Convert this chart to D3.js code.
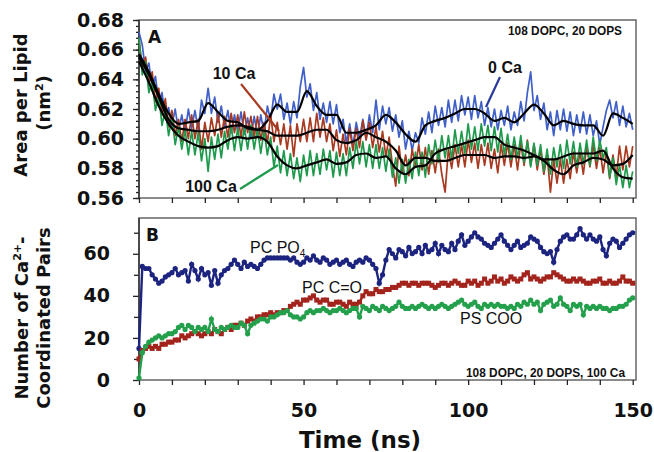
<!DOCTYPE html>
<html lang="en">
<head>
  <meta charset="UTF-8">
  <script src="https://d3js.org/d3.v7.min.js"></script>
  <style>
    body {
      background-color: #fff;
      margin: 0;
      overflow: hidden;
    }

    svg {
      width: 654px;
      height: 452px;
      display: block;
    }

    .tick-label {
      font-family: "DejaVu Sans", Verdana, sans-serif;
      font-weight: bold;
      font-size: 19px;
      fill: #111;
    }

    .title {
      font-family: "DejaVu Sans", Verdana, sans-serif;
      font-weight: bold;
      fill: #111;
    }

    .note {
      font-family: "Liberation Sans", Arial, sans-serif;
      fill: #111;
    }
  </style>
</head>
<body>

<svg></svg>

<script>
  // time axis (ns), one sample per ns for the raw traces, every 3 ns for running averages
  const timeNs = d3.range(0, 151);
  const avgTimeNs = d3.range(0, 151, 3);

  // panel A: area per lipid (nm^2)
  const area0Ca = [0.672,0.663,0.645,0.651,0.635,0.642,0.624,0.631,0.614,0.621,
    0.609,0.620,0.605,0.616,0.604,0.620,0.607,0.619,0.606,0.626,
    0.617,0.634,0.617,0.628,0.611,0.622,0.608,0.619,0.604,0.616,
    0.605,0.618,0.603,0.614,0.601,0.615,0.602,0.616,0.604,0.622,
    0.612,0.630,0.620,0.630,0.613,0.624,0.610,0.625,0.614,0.635,
    0.648,0.628,0.637,0.619,0.631,0.613,0.624,0.611,0.625,0.610,
    0.623,0.604,0.613,0.597,0.610,0.595,0.611,0.600,0.613,0.600,
    0.616,0.604,0.626,0.606,0.622,0.610,0.621,0.605,0.616,0.601,
    0.612,0.593,0.605,0.592,0.604,0.597,0.614,0.603,0.618,0.604,
    0.622,0.609,0.621,0.608,0.626,0.611,0.626,0.612,0.629,0.616,
    0.628,0.613,0.629,0.614,0.625,0.609,0.621,0.608,0.620,0.606,
    0.619,0.609,0.622,0.606,0.618,0.609,0.625,0.612,0.631,0.645,
    0.619,0.629,0.613,0.624,0.606,0.618,0.602,0.619,0.606,0.620,
    0.605,0.618,0.602,0.616,0.604,0.618,0.603,0.616,0.602,0.612,
    0.596,0.608,0.619,0.626,0.614,0.625,0.609,0.622,0.608,0.617,
    0.606];

  const area10Ca = [0.667,0.648,0.655,0.637,0.645,0.625,0.634,0.616,0.627,0.608,
    0.619,0.602,0.613,0.598,0.613,0.600,0.616,0.600,0.613,0.593,
    0.611,0.598,0.614,0.602,0.617,0.601,0.615,0.601,0.617,0.604,
    0.616,0.601,0.618,0.604,0.615,0.601,0.615,0.599,0.611,0.597,
    0.616,0.598,0.611,0.596,0.610,0.593,0.609,0.588,0.610,0.598,
    0.613,0.598,0.614,0.598,0.617,0.601,0.614,0.598,0.610,0.592,
    0.606,0.588,0.603,0.589,0.607,0.592,0.607,0.594,0.612,0.599,
    0.611,0.594,0.608,0.591,0.605,0.588,0.601,0.582,0.568,0.595,
    0.577,0.589,0.575,0.593,0.581,0.596,0.579,0.594,0.576,0.592,
    0.577,0.593,0.576,0.564,0.593,0.580,0.596,0.581,0.596,0.581,
    0.599,0.584,0.597,0.580,0.596,0.582,0.597,0.580,0.593,0.577,
    0.596,0.582,0.597,0.581,0.596,0.579,0.597,0.582,0.599,0.582,
    0.596,0.579,0.593,0.576,0.589,0.564,0.586,0.570,0.586,0.570,
    0.586,0.573,0.591,0.577,0.591,0.576,0.595,0.581,0.596,0.580,
    0.594,0.577,0.591,0.573,0.589,0.574,0.595,0.579,0.595,0.581,
    0.595];

  const area100Ca = [0.668,0.643,0.652,0.631,0.639,0.619,0.629,0.609,0.620,0.602,
    0.614,0.596,0.608,0.593,0.606,0.589,0.605,0.589,0.604,0.585,
    0.600,0.578,0.601,0.586,0.603,0.587,0.605,0.593,0.609,0.592,
    0.607,0.592,0.608,0.593,0.609,0.593,0.607,0.590,0.606,0.589,
    0.601,0.581,0.595,0.577,0.592,0.575,0.590,0.573,0.587,0.571,
    0.589,0.575,0.592,0.575,0.590,0.576,0.593,0.579,0.592,0.574,
    0.591,0.575,0.590,0.575,0.594,0.580,0.598,0.583,0.598,0.581,
    0.596,0.580,0.596,0.580,0.594,0.578,0.593,0.574,0.587,0.570,
    0.586,0.570,0.586,0.573,0.591,0.575,0.591,0.574,0.596,0.583,
    0.599,0.584,0.602,0.587,0.602,0.586,0.606,0.590,0.605,0.590,
    0.610,0.593,0.608,0.592,0.610,0.595,0.609,0.592,0.608,0.591,
    0.607,0.589,0.603,0.586,0.601,0.587,0.602,0.584,0.598,0.581,
    0.597,0.582,0.596,0.578,0.593,0.576,0.594,0.581,0.596,0.580,
    0.599,0.583,0.598,0.581,0.597,0.583,0.599,0.582,0.601,0.585,
    0.599,0.587,0.594,0.574,0.587,0.569,0.582,0.567,0.582,0.567,
    0.578];

  // running averages (black lines)
  const avg0Ca = [0.657,0.645,0.630,0.617,0.610,0.611,0.612,0.624,0.618,0.612,
    0.611,0.607,0.606,0.612,0.623,0.618,0.618,0.632,0.622,0.616,
    0.616,0.604,0.604,0.606,0.609,0.616,0.611,0.603,0.598,0.609,
    0.612,0.614,0.617,0.620,0.620,0.617,0.612,0.614,0.611,0.617,
    0.623,0.617,0.609,0.612,0.610,0.609,0.609,0.602,0.617,0.614,0.610];
  const avg10Ca = [0.655,0.643,0.628,0.613,0.607,0.606,0.605,0.605,0.606,0.608,
    0.609,0.608,0.606,0.605,0.602,0.602,0.602,0.604,0.606,0.606,
    0.599,0.597,0.599,0.604,0.601,0.598,0.592,0.582,0.587,0.587,
    0.585,0.585,0.587,0.589,0.589,0.589,0.587,0.588,0.588,0.587,
    0.588,0.585,0.579,0.576,0.582,0.584,0.587,0.586,0.582,0.583,0.589];
  const avg100Ca = [0.652,0.638,0.622,0.610,0.602,0.598,0.595,0.594,0.595,0.599,
    0.601,0.600,0.601,0.598,0.588,0.582,0.580,0.582,0.584,0.586,
    0.583,0.584,0.589,0.590,0.587,0.588,0.580,0.576,0.581,0.582,
    0.590,0.593,0.595,0.597,0.599,0.601,0.601,0.596,0.594,0.592,
    0.589,0.586,0.586,0.588,0.590,0.590,0.590,0.592,0.580,0.574,0.573];

  // panel B: number of Ca2+-coordinated pairs
  const pairsPO4 = [15,54,53,53,50,48,46,47,49,50,
    51,53,50,51,52,47,55,52,48,53,
    50,51,45,52,46,50,52,53,55,57,
    55,53,56,54,55,54,53,55,57,58,
    58,58,58,58,58,58,57,58,56,55,
    56,58,57,59,57,56,58,57,55,56,
    57,55,56,57,55,54,56,57,56,58,
    57,55,53,46,50,57,62,60,58,62,
    61,59,63,60,61,63,60,64,61,62,
    65,60,64,62,61,65,62,66,69,64,
    66,68,70,68,67,65,64,63,65,67,
    69,66,64,62,64,66,63,64,65,68,
    67,66,63,61,60,61,56,62,66,68,
    69,67,67,69,72,69,67,69,67,66,
    68,62,59,65,67,66,63,65,67,69,
    70];

  const pairsCO = [10,14,15,16,15,16,15,17,17,18,
    18,19,19,21,20,21,22,23,22,21,
    22,23,22,24,23,22,24,25,24,26,
    26,27,26,28,29,28,30,30,31,31,
    32,31,32,32,33,33,35,36,37,36,
    38,38,39,40,38,37,38,38,36,36,
    37,37,36,35,37,36,36,37,40,42,
    41,41,43,42,42,43,43,44,44,45,
    46,46,45,46,46,45,46,46,46,45,
    44,45,46,46,45,46,47,46,45,45,
    47,46,47,45,46,48,46,47,49,47,
    48,46,47,49,48,47,48,50,51,48,
    49,48,47,48,49,49,51,50,49,48,
    47,47,48,47,48,47,46,46,47,47,
    48,46,46,47,46,46,47,49,47,47,
    46];

  const pairsCOO = [1,13,16,18,19,20,21,20,21,22,
    22,23,25,26,24,26,25,23,25,24,
    25,23,29,24,23,25,24,25,26,25,
    25,27,26,22,26,27,28,29,29,28,
    30,30,31,32,32,33,31,30,30,29,
    30,32,33,32,33,33,34,33,32,33,
    33,34,33,32,33,34,34,30,35,34,
    33,35,34,33,35,34,33,34,35,37,
    35,34,34,35,34,35,36,35,34,35,
    34,35,36,35,34,35,36,37,38,36,
    35,36,37,35,34,36,35,36,35,36,
    35,35,34,35,34,36,35,37,36,38,
    36,37,33,36,37,38,35,36,39,36,
    35,33,36,35,36,31,35,34,35,34,
    35,34,34,33,34,34,35,35,36,38,
    39];

  const areaTicks = [0.56, 0.58, 0.60, 0.62, 0.64, 0.66, 0.68];
  const pairTicks = [0, 20, 40, 60];
  const timeLabels = [0, 50, 100, 150];

  const svg = d3.select('svg');

  // scales
  const x = d3.scaleLinear().domain([0, 151]).range([139, 636]);
  const yA = d3.scaleLinear().domain([0.56, 0.68]).range([198, 20]);
  const yB = d3.scaleLinear().domain([0, 77]).range([380, 218]);

  // frames
  function frame(y0, y1) {
    svg.append('rect')
      .attr('x', x.range()[0]).attr('y', y0)
      .attr('width', x.range()[1] - x.range()[0]).attr('height', y1 - y0)
      .attr('fill', '#fff').attr('stroke', '#666').attr('stroke-width', 1.5);
  }
  frame(20, 198);
  frame(218, 380);

  function styleAxis(g) {
    g.select('.domain').remove();
    g.selectAll('.tick line').attr('stroke', '#222').attr('stroke-width', 1.3);
  }

  // panel A axes
  svg.append('g')
    .attr('transform', `translate(${x.range()[0]},0)`)
    .call(d3.axisLeft(yA).tickValues(d3.range(0.56, 0.6801, 0.004)).tickSize(3).tickFormat(''))
    .call(styleAxis);
  svg.append('g')
    .attr('transform', `translate(${x.range()[0]},0)`)
    .call(d3.axisLeft(yA).tickValues(areaTicks).tickSize(6).tickPadding(9).tickFormat(d3.format('.2f')))
    .call(styleAxis)
    .selectAll('text').attr('class', 'tick-label');
  svg.append('g')
    .attr('transform', 'translate(0,198)')
    .call(d3.axisBottom(x).tickValues(d3.range(0, 151, 10)).tickSize(5).tickFormat(''))
    .call(styleAxis);

  // panel B axes
  svg.append('g')
    .attr('transform', `translate(${x.range()[0]},0)`)
    .call(d3.axisLeft(yB).tickValues([10, 30, 50, 70]).tickSize(5).tickFormat(''))
    .call(styleAxis);
  svg.append('g')
    .attr('transform', `translate(${x.range()[0]},0)`)
    .call(d3.axisLeft(yB).tickValues(pairTicks).tickSize(6).tickPadding(23))
    .call(styleAxis)
    .selectAll('text').attr('class', 'tick-label');
  svg.append('g')
    .attr('transform', 'translate(0,380)')
    .call(d3.axisBottom(x).tickValues(d3.range(0, 151, 10)).tickSize(5).tickFormat(''))
    .call(styleAxis);
  svg.append('g')
    .attr('transform', 'translate(0,380)')
    .call(d3.axisBottom(x).tickValues(timeLabels).tickSize(0).tickPadding(24))
    .call(g => g.select('.domain').remove())
    .selectAll('text').attr('class', 'tick-label');

  // left axis lines drawn darker
  svg.append('line').attr('x1', 139).attr('x2', 139).attr('y1', 20).attr('y2', 198)
    .attr('stroke', '#333').attr('stroke-width', 1.5);
  svg.append('line').attr('x1', 139).attr('x2', 139).attr('y1', 218).attr('y2', 380)
    .attr('stroke', '#333').attr('stroke-width', 1.5);

  // panel A traces
  const lineA = d3.line().x((d, i) => x(timeNs[i])).y(d => yA(d));
  const avgLine = d3.line().x((d, i) => x(avgTimeNs[i])).y(d => yA(d)).curve(d3.curveMonotoneX);

  const rawSeries = [
    { values: area0Ca, color: '#4060c8' },
    { values: area10Ca, color: '#a83a22' },
    { values: area100Ca, color: '#1f9a4c' }
  ];
  svg.selectAll('path.raw')
    .data(rawSeries)
    .enter().append('path')
    .attr('class', 'raw')
    .attr('d', d => lineA(d.values))
    .attr('fill', 'none')
    .attr('stroke', d => d.color)
    .attr('stroke-width', 1.7)
    .attr('stroke-linejoin', 'round');

  svg.selectAll('path.avg')
    .data([avg0Ca, avg10Ca, avg100Ca])
    .enter().append('path')
    .attr('class', 'avg')
    .attr('d', d => avgLine(d))
    .attr('fill', 'none')
    .attr('stroke', '#000')
    .attr('stroke-width', 2.2);

  // panel B traces
  const lineB = d3.line().x((d, i) => x(timeNs[i])).y(d => yB(d));
  const pairSeries = [
    { values: pairsPO4, color: '#1c2480', marker: 'circle' },
    { values: pairsCO, color: '#a3241c', marker: 'square' },
    { values: pairsCOO, color: '#24a04c', marker: 'circle' }
  ];

  pairSeries.forEach(s => {
    svg.append('path')
      .attr('d', lineB(s.values))
      .attr('fill', 'none')
      .attr('stroke', s.color)
      .attr('stroke-width', 2.4);
    const g = svg.append('g').attr('fill', s.color);
    if (s.marker === 'square') {
      g.selectAll('rect').data(s.values).enter().append('rect')
        .attr('x', (d, i) => x(timeNs[i]) - 2.5)
        .attr('y', d => yB(d) - 2.5)
        .attr('width', 5).attr('height', 5);
    } else {
      g.selectAll('circle').data(s.values).enter().append('circle')
        .attr('cx', (d, i) => x(timeNs[i]))
        .attr('cy', d => yB(d))
        .attr('r', 2.6);
    }
  });

  // panel letters
  svg.append('text').attr('class', 'title').attr('x', 148).attr('y', 43)
    .style('font-size', '17px').text('A');
  svg.append('text').attr('class', 'title').attr('x', 146).attr('y', 241)
    .style('font-size', '17px').text('B');

  // annotations panel A
  function pointer(x1, y1, x2, y2, color) {
    svg.append('line').attr('x1', x1).attr('y1', y1).attr('x2', x2).attr('y2', y2)
      .attr('stroke', color).attr('stroke-width', 2.2);
  }
  pointer(241, 84, 279, 131, '#a83a22');
  pointer(500, 77, 486, 107, '#2a3a9a');
  pointer(240, 189, 278, 165, '#1f9a4c');

  svg.append('text').attr('class', 'note').attr('x', 234).attr('y', 79)
    .attr('text-anchor', 'middle').style('font-size', '16px').style('font-weight', 'bold').text('10 Ca');
  svg.append('text').attr('class', 'note').attr('x', 505).attr('y', 73)
    .attr('text-anchor', 'middle').style('font-size', '16px').style('font-weight', 'bold').text('0 Ca');
  svg.append('text').attr('class', 'note').attr('x', 211).attr('y', 192)
    .attr('text-anchor', 'middle').style('font-size', '16px').style('font-weight', 'bold').text('100 Ca');
  svg.append('text').attr('class', 'note').attr('x', 622).attr('y', 35)
    .attr('text-anchor', 'end').attr('textLength', 114).attr('lengthAdjust', 'spacingAndGlyphs')
    .style('font-size', '13px').style('font-weight', 'bold').text('108 DOPC, 20 DOPS');

  // annotations panel B
  const po4 = svg.append('text').attr('class', 'note').attr('x', 250).attr('y', 253)
    .style('font-size', '16px');
  po4.append('tspan').text('PC PO');
  po4.append('tspan').attr('dy', 4).style('font-size', '10px').text('4');
  svg.append('text').attr('class', 'note').attr('x', 302).attr('y', 293)
    .style('font-size', '16px').text('PC C=O');
  svg.append('text').attr('class', 'note').attr('x', 460).attr('y', 324)
    .style('font-size', '16px').text('PS COO');
  svg.append('text').attr('class', 'note').attr('x', 625).attr('y', 377)
    .attr('text-anchor', 'end').attr('textLength', 159).attr('lengthAdjust', 'spacingAndGlyphs')
    .style('font-size', '13px').style('font-weight', 'bold').text('108 DOPC, 20 DOPS, 100 Ca');

  // axis titles
  svg.append('text').attr('class', 'title')
    .attr('text-anchor', 'middle').style('font-size', '23px')
    .attr('x', 360).attr('y', 448).text('Time (ns)');

  svg.append('text').attr('class', 'title')
    .attr('text-anchor', 'middle').style('font-size', '18px')
    .attr('transform', 'translate(27,105) rotate(-90)').text('Area per Lipid');
  const nm = svg.append('text').attr('class', 'title')
    .attr('text-anchor', 'middle').style('font-size', '18px')
    .attr('transform', 'translate(50,103) rotate(-90)');
  nm.append('tspan').text('(nm');
  nm.append('tspan').attr('dy', -7).style('font-size', '11px').text('2');
  nm.append('tspan').attr('dy', 7).text(')');

  const ca = svg.append('text').attr('class', 'title')
    .attr('text-anchor', 'middle').style('font-size', '18px')
    .attr('transform', 'translate(28,318) rotate(-90)');
  ca.append('tspan').text('Number of Ca');
  ca.append('tspan').attr('dy', -7).style('font-size', '11px').text('2+');
  ca.append('tspan').attr('dy', 7).text('-');
  svg.append('text').attr('class', 'title')
    .attr('text-anchor', 'middle').style('font-size', '18px')
    .attr('transform', 'translate(50,318) rotate(-90)').text('Coordinated Pairs');
</script>

</body>
</html>
